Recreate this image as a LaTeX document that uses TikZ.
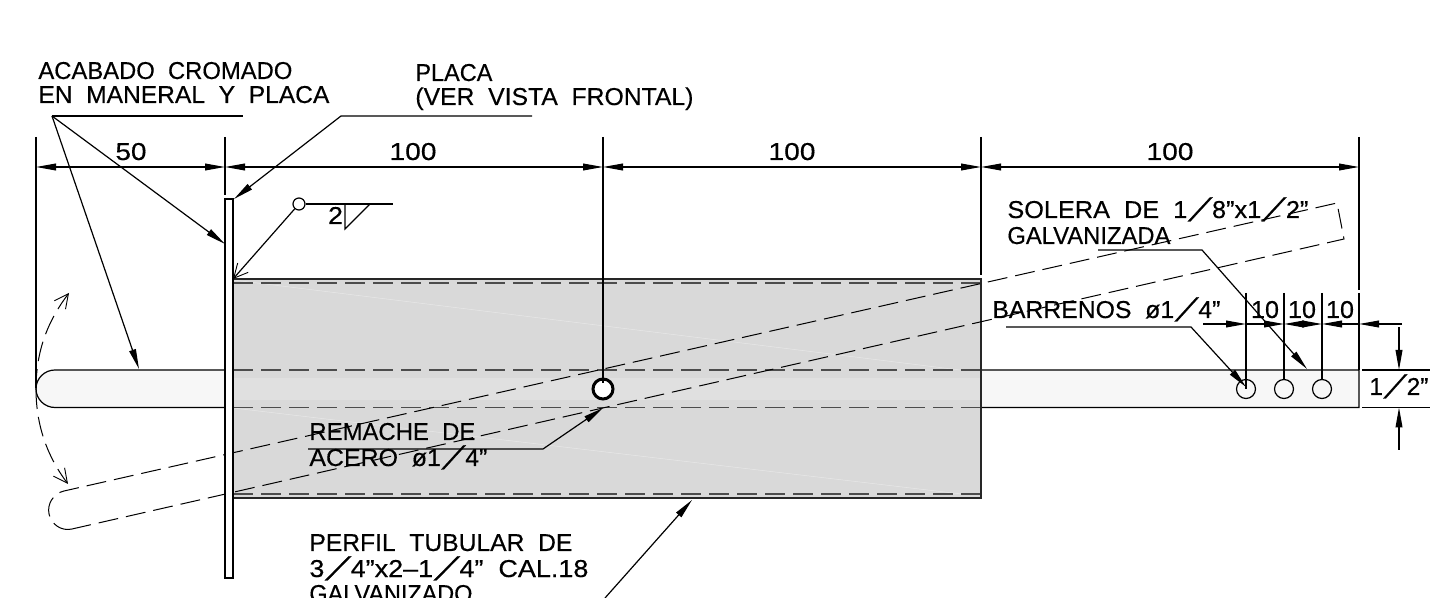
\documentclass[tikz,border=0pt]{standalone}
\usepackage{fontspec}
\usepackage{graphicx}
\setmainfont[FakeBold=0.4]{Liberation Sans}
\newfontfamily\slfont[FakeSlant=0.62,FakeBold=0.4]{Liberation Sans}
\usetikzlibrary{arrows.meta}
\newcommand\tw[2]{\resizebox{\dimexpr #1pt/2\relax}{\height}{#2}}
\newcommand\wsl{\kern0.02em\raisebox{-0.13em}{\slfont\fontsize{16.5pt}{17pt}\selectfont /}\kern0.58em}
\tikzset{
 x=0.5pt,y=-0.5pt,
 ln/.style={line width=0.6pt,black},
 dashln/.style={line width=0.5pt,black,dash pattern=on 10pt off 4pt},
 hid/.style={line width=0.75pt,black!70,dash pattern=on 10pt off 4pt},
 tip/.style={-{Triangle[length=10pt,width=3.4pt]}},
 tips/.style={{Triangle[length=10pt,width=3.4pt]}-{Triangle[length=10pt,width=3.4pt]}},
 opentip/.style={-{Straight Barb[length=7pt,width=7pt,line width=0.45pt]}},
 lbl/.style={anchor=base west,inner sep=0pt,font=\fontsize{12.2pt}{14pt}\selectfont},
 lblc/.style={anchor=base,inner sep=0pt,font=\fontsize{12.2pt}{14pt}\selectfont},
}
\begin{document}
\begin{tikzpicture}
\useasboundingbox (0,0) rectangle (1452,598);
\clip (0,0) rectangle (1452,598);
\fill[white] (0,0) rectangle (1452,598);
% handle outside tube
\filldraw[ln,fill=black!3] (1359,370) -- (55,370) .. controls (44.5,370) and (36,378.4) .. (36,388.75) .. controls (36,399.1) and (44.5,407.5) .. (55,407.5) -- (1359,407.5) -- cycle;
% tube
\fill[black!15] (233,279) rectangle (981,498);
\fill[black!12] (233,378) rectangle (981,400);
\draw[white,line width=0.25pt,opacity=.4] (233,280) -- (960,370) (233,408) -- (970,495);
\draw[hid] (233,283) -- (981,283);
\draw[hid] (233,494) -- (981,494);
\draw[hid] (233,370) -- (981,370);
\draw[hid] (233,407.5) -- (981,407.5);
\draw[line width=1.1pt,black!85] (233,279) rectangle (981,498);
% swung handle
\draw[dashln] (72,529) .. controls (61.6,531.4) and (51.5,524.7) .. (49.1,514.3) .. controls (46.7,503.9) and (53.6,493.4) .. (64,491) -- (1337,203) -- (1344,239) -- cycle;
% plate
\filldraw[line width=0.75pt,fill=white] (225,199) rectangle (233,578);
% extension lines
\coordinate (e1a) at (36,137); \coordinate (e1b) at (36,388);
\coordinate (e2a) at (225,137); \coordinate (e2b) at (225,195);
\coordinate (e3a) at (603,137); \coordinate (e3b) at (603,389);
\coordinate (e4a) at (981,137); \coordinate (e4b) at (981,275);
\coordinate (e5a) at (1359,137); \coordinate (e5b) at (1359,290);
\draw[ln] (e1a)--(e1b) (e2a)--(e2b) (e3a)--(e3b) (e4a)--(e4b) (e5a)--(e5b);
\draw[ln] (1359,293)--(1359,370);
% pivot
\node[circle,draw,line width=1.5pt,fill=white,minimum size=10pt,inner sep=0pt] (piv) at (603,389) {};
\draw[ln] (603,370)--(603,383);
% holes
\node[circle,draw,ln,minimum size=9.5pt,inner sep=0pt] (h1) at (1246,389) {};
\node[circle,draw,ln,minimum size=9.5pt,inner sep=0pt] (h2) at (1284,389) {};
\node[circle,draw,ln,minimum size=9.5pt,inner sep=0pt] (h3) at (1322,389) {};
\draw[ln] (1246,293)--(h1.center) (1284,293)--(h2.north) (1322,293)--(h3.north);
% dims
\draw[ln,tips] (36,167)--(225,167);
\draw[ln,tips] (225,167)--(603,167);
\draw[ln,tips] (603,167)--(981,167);
\draw[ln,tips] (981,167)--(1359,167);
\draw[ln,tip] (1203,324)--(1246,324);
\draw[ln,tip] (1246,324)--(1284,324);
\draw[ln,tips] (1284,324)--(1322,324);
\draw[ln,tip] (1359,324)--(1322,324);
\draw[ln,tip] (1402,324)--(1359,324);
% 1/2 dim
\draw[ln] (1362,370)--(1430,370) (1362,407.5)--(1430,407.5);
\draw[ln,tip] (1399,327)--(1399,370);
\draw[ln,tip] (1399,450)--(1399,407.5);
% rotation arrow
\draw[line width=0.5pt,dash pattern=on 10pt off 4pt,opentip] (36,389) .. controls (36,425) and (47,456) .. (68,484);
\draw[line width=0.5pt,dash pattern=on 10pt off 4pt,opentip] (36,389) .. controls (36,352) and (47,322) .. (69,293);
% leaders
\coordinate (L1) at (52,116); \coordinate (L1e) at (243,116);
\coordinate (T1a) at (225,244); \coordinate (T1b) at (139,369);
\draw[ln] (L1)--(L1e);
\draw[ln,tip] (L1)--(T1a);
\draw[ln,tip] (L1)--(T1b);
\coordinate (L2) at (341,116); \coordinate (L2e) at (532,116);
\draw[ln,tip] (L2e)--(L2)--(234,199);
\coordinate (L3) at (1098,250); \coordinate (L3k) at (1202,250);
\draw[ln,tip] (L3)--(L3k)--(1307,369);
\coordinate (L4) at (1006,327); \coordinate (L4k) at (1191,327);
\draw[ln,tip] (L4)--(L4k)--(1246,387);
\coordinate (L5) at (308,449); \coordinate (L5k) at (543,449);
\draw[ln,tip] (L5)--(L5k)--(603,408);
\coordinate (L6) at (605,598);
\draw[ln,tip] (L6)--(692,500);
% weld
\node[circle,draw,ln,minimum size=6pt,inner sep=0pt] (w) at (299,204) {};
\coordinate (wt) at (233,279);
\draw[ln,opentip] (w)--(wt);
\draw[ln] (w)--(393,204);
\draw[ln] (345,204)--(345,229)--(370,204);
% text
\node[lbl] (t1) at (38,79) {\tw{254}{ACABADO\ \ CROMADO}};
\node[lbl] (t2) at (38,103) {\tw{291}{EN\ \ MANERAL\ \ Y\ \ PLACA}};
\node[lbl] (t3) at (415,81) {\tw{77}{PLACA}};
\node[lbl] (t4) at (415,105) {\tw{278}{(VER\ \ VISTA\ \ FRONTAL)}};
\node[lblc] (d1) at (131,160) {\tw{31}{50}};
\node[lblc] (d2) at (413,160) {\tw{47}{100}};
\node[lblc] (d3) at (792,160) {\tw{47}{100}};
\node[lblc] (d4) at (1170,160) {\tw{47}{100}};
\node[lblc] (w2) at (335.5,224) {\tw{15}{2}};
\node[lbl] (t5) at (1007,218) {\tw{301}{SOLERA\ \ DE\ \ 1\wsl 8"x1\wsl 2"}};
\node[lbl] (t6) at (1007,244) {\tw{163}{GALVANIZADA}};
\node[lbl] (t7) at (992,318) {\tw{228}{BARRENOS\ \ ø1\wsl 4"}};
\node[lblc] (d5) at (1265,318) {\tw{28}{10}};
\node[lblc] (d6) at (1302,318) {\tw{28}{10}};
\node[lblc] (d7) at (1340,318) {\tw{28}{10}};
\node[lbl] (t8) at (1369,395) {\tw{59}{1\wsl 2"}};
\node[lbl] (t9) at (309,440) {\tw{166}{REMACHE\ \ DE}};
\node[lbl] (t10) at (309,466) {\tw{178}{ACERO\ \ ø1\wsl 4"}};
\node[lbl] (t11) at (309,551) {\tw{263}{PERFIL\ \ TUBULAR\ \ DE}};
\node[lbl] (t12) at (309,577) {\tw{279}{3\wsl 4"x2--1\wsl 4"\ \ CAL.18}};
\node[lbl] (t13) at (309,602) {\tw{163}{GALVANIZADO}};
\end{tikzpicture}
\end{document}
